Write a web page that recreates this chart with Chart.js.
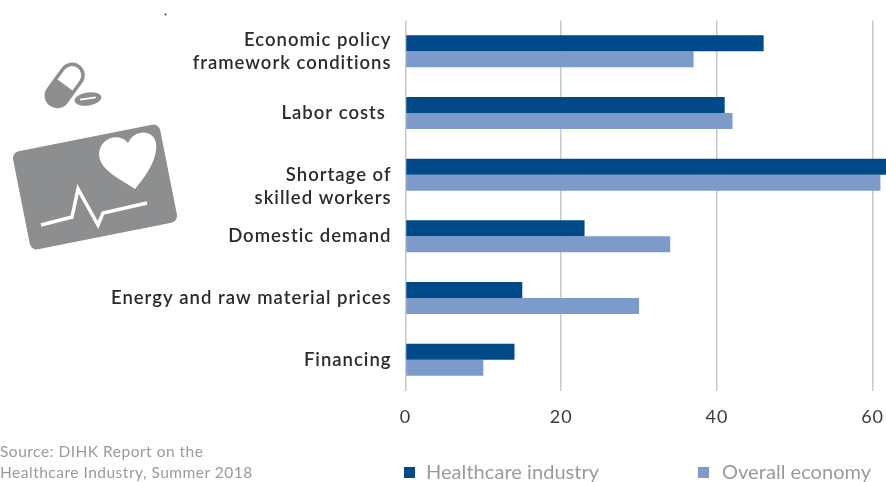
<!DOCTYPE html>
<html>
<head>
    <meta charset="utf-8">
    <title>Business risks</title>
    <style>
        html, body { margin: 0; padding: 0; background: #fff; overflow: hidden; }
        #wrap { position: relative; width: 886px; height: 482px; }
        canvas { position: absolute; left: 0; top: 0; }
        svg { position: absolute; left: 0; top: 0; }
        .note { position: absolute; font-family: Lato, sans-serif; color: #9a9a9a; white-space: nowrap; }
        .source { left: 0; top: 441px; font-size: 15.5px; line-height: 21px; letter-spacing: 0.5px; }
        .key { top: 458px; font-size: 20px; line-height: 26px; letter-spacing: 0.05px; }
        .swatch { position: absolute; top: 467px; width: 11px; height: 11px; }
    </style>
</head>
<body>
<div id="wrap">
    <canvas id="myChart" width="886" height="482"></canvas>
    <svg width="886" height="482">
        <circle cx="165.5" cy="14.5" r="1" fill="#444"/>
        <!-- capsule -->
        <g transform="rotate(36 65 85)">
            <rect x="54" y="62" width="22" height="47" rx="11" fill="#fff" stroke="#8c8e90" stroke-width="3.5"/>
            <path d="M54 85 H76 V98 A11 11 0 0 1 54 98 Z" fill="#8c8e90"/>
        </g>
        <!-- tablet -->
        <g transform="rotate(-8 88 99)">
            <ellipse cx="88" cy="99" rx="13.5" ry="6.5" fill="#8c8e90"/>
            <path d="M80 98.5 H96" stroke="#fff" stroke-width="1.6"/>
        </g>
        <!-- card with heart and pulse -->
        <rect x="20" y="137" width="150" height="100" rx="7" fill="#8c8e90" transform="rotate(-11.2 95 187)"/>
        <path d="M128 143 C120 132 100 137 99 154 C99 170 122 180 135 189 C147 175 158 158 156 143 C154 130 135 128 128 143 Z" fill="#fff"/>
        <path d="M41 225 L72 217 L78 189 L98 225 L103 213 L147 203" fill="none" stroke="#fff" stroke-width="3.5"/>
    </svg>
    <div class="note source">Source: DIHK Report on the<br>Healthcare Industry, Summer 2018</div>
    <div class="swatch" id="swatchA" style="left:404px"></div>
    <div class="note key" id="keyA" style="left:426px"></div>
    <div class="swatch" id="swatchB" style="left:698px"></div>
    <div class="note key" id="keyB" style="left:722px"></div>
</div>
<script src="https://cdn.jsdelivr.net/npm/chart.js"></script>
<script>
    const categories = [
        ["Economic policy", "framework conditions"],
        "Labor costs ",
        ["", "Shortage of", "skilled workers"],
        "Domestic demand",
        "Energy and raw material prices",
        "Financing"
    ]
    const healthcare = [46, 41, 62, 23, 15, 14]
    const overall = [37, 42, 61, 34, 30, 10]
    const seriesNames = ["Healthcare industry", "Overall economy"]
    const seriesColors = ["#004a8a", "#7c9bcb"]

    // canvas text spacing, the labels run a bit wide
    const spacing = {
        id: 'spacing',
        beforeDraw(chart) {
            chart.ctx.letterSpacing = '1px'
        }
    }

    const data = {
        labels: categories,
        datasets: [{
            label: seriesNames[0],
            data: healthcare,
            backgroundColor: seriesColors[0],
            categoryPercentage: 0.52,
            barPercentage: 1
        }, {
            label: seriesNames[1],
            data: overall,
            backgroundColor: seriesColors[1],
            categoryPercentage: 0.52,
            barPercentage: 1
        }]
    }

    new Chart(document.getElementById('myChart').getContext('2d'), {
        type: 'bar',
        data: data,
        plugins: [spacing],
        options: {
            indexAxis: 'y',
            responsive: false,
            animation: false,
            layout: { padding: { top: 20.5, bottom: 51.5, left: 0, right: 0 } },
            plugins: { legend: { display: false }, tooltip: { enabled: false } },
            scales: {
                x: {
                    min: 0,
                    max: 61.72,
                    // no room kept for the overhang of the last tick label
                    afterFit: (scale) => {
                        scale.height = 40
                        scale.paddingLeft = 0
                        scale.paddingRight = 0
                    },
                    border: { display: false },
                    grid: { color: '#c9c9c9', lineWidth: 1.5, drawTicks: false },
                    ticks: {
                        stepSize: 20,
                        includeBounds: false,
                        maxRotation: 0,
                        padding: 16,
                        color: '#3c3c3c',
                        font: { family: 'Lato', size: 18 }
                    }
                },
                y: {
                    afterFit: (scale) => {
                        scale.width = 405.5
                        scale.paddingTop = 0
                        scale.paddingBottom = 0
                    },
                    border: { display: false },
                    grid: { display: false },
                    ticks: {
                        autoSkip: false,
                        padding: 6,
                        color: '#2b2b2b',
                        font: { family: 'Lato', size: 18.5, weight: '600', lineHeight: 1.25 }
                    }
                }
            }
        }
    })

    // key under the plot
    document.getElementById('keyA').textContent = seriesNames[0]
    document.getElementById('keyB').textContent = seriesNames[1]
    document.getElementById('swatchA').style.background = seriesColors[0]
    document.getElementById('swatchB').style.background = seriesColors[1]
</script>
</body>
</html>
